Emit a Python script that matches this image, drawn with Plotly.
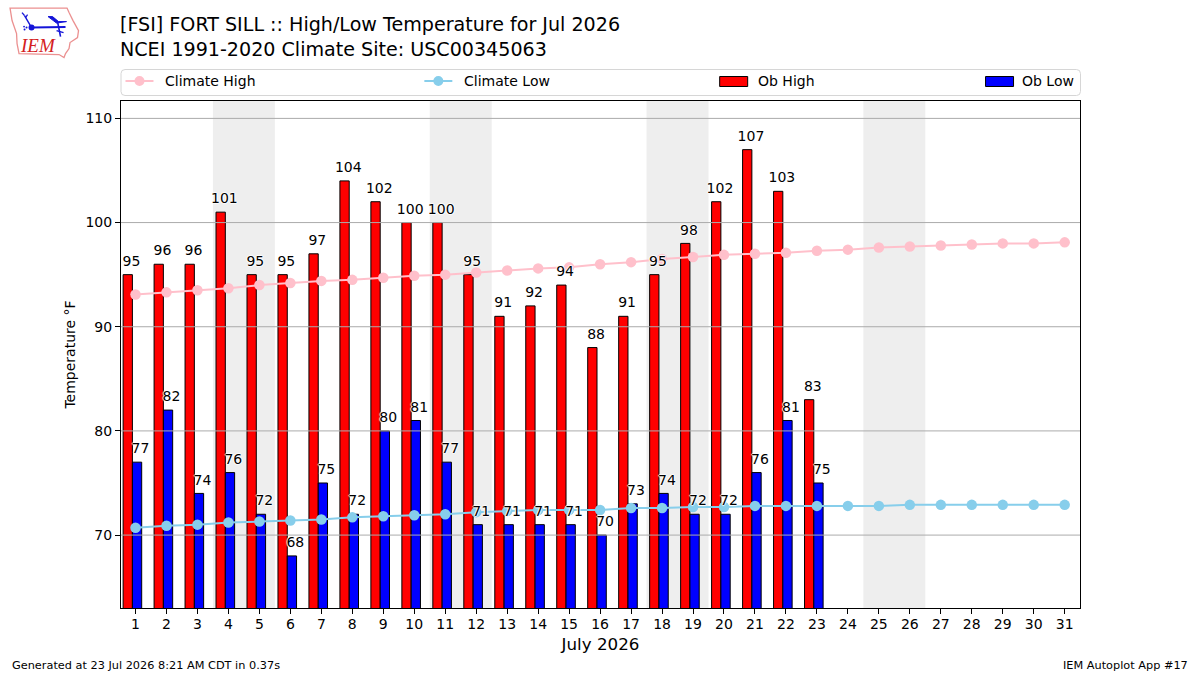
import plotly.graph_objects as go

days = list(range(1, 32))
ob_days = list(range(1, 24))
climate_high = [93.1, 93.3, 93.5, 93.7, 94.0, 94.2, 94.4, 94.5, 94.7, 94.9, 95.0,
                95.2, 95.4, 95.6, 95.7, 96.0, 96.2, 96.5, 96.7, 96.9, 97.0, 97.1,
                97.3, 97.4, 97.6, 97.7, 97.8, 97.9, 98.0, 98.0, 98.1]
climate_low = [70.7, 70.9, 71.0, 71.2, 71.3, 71.4, 71.5, 71.7, 71.8, 71.9, 72.0,
               72.2, 72.3, 72.4, 72.4, 72.4, 72.6, 72.6, 72.7, 72.7, 72.8, 72.8,
               72.8, 72.8, 72.8, 72.9, 72.9, 72.9, 72.9, 72.9, 72.9]
ob_high = [95, 96, 96, 101, 95, 95, 97, 104, 102, 100, 100, 95,
           91, 92, 94, 88, 91, 95, 98, 102, 107, 103, 83]
ob_low = [77, 82, 74, 76, 72, 68, 75, 72, 80, 81, 77, 71,
          71, 71, 71, 70, 73, 74, 72, 72, 76, 81, 75]
weekends = [(4, 5), (11, 12), (18, 19), (25, 26)]
y_ticks = [70, 80, 90, 100, 110]

FONT = "DejaVu Sans"
PLOT_L, PLOT_R, PLOT_T, PLOT_B = 120.5, 1080, 100.5, 608
HALO = "-1px 0 1px #fff, 1px 0 1px #fff, 0 -1px 1px #fff, 0 1px 1px #fff"


def px(x):
    return (x - PLOT_L) / (PLOT_R - PLOT_L)


def py(y):
    return (PLOT_B - y) / (PLOT_B - PLOT_T)


def page_path(points, close=False):
    parts = [f"{'M' if i == 0 else 'L'}{px(x):.5f},{py(y):.5f}" for i, (x, y) in enumerate(points)]
    return " ".join(parts) + (" Z" if close else "")


def page_shape(points, color, width=1.0, fill=None, close=False):
    return dict(type="path", xref="paper", yref="paper", path=page_path(points, close),
                line=dict(color=color, width=width),
                fillcolor=fill if fill else "rgba(0,0,0,0)", layer="above")


def page_dot(cx, cy, r, color):
    return dict(type="circle", xref="paper", yref="paper",
                x0=px(cx - r), x1=px(cx + r), y0=py(cy + r), y1=py(cy - r),
                fillcolor=color, line=dict(width=0), layer="above")


def page_text(x, y, text, size, anchor="left", **extra):
    return dict(xref="paper", yref="paper", x=px(x), y=py(y), text=text, showarrow=False,
                xanchor=anchor, yanchor="middle", font=dict(family=FONT, size=size, color="black"),
                **extra)


fig = go.Figure()

fig.add_trace(go.Bar(x=ob_days, y=ob_high, name="Ob High", width=0.3, offset=-0.4,
                     marker=dict(color="red", line=dict(color="black", width=1)), showlegend=False))
fig.add_trace(go.Bar(x=ob_days, y=ob_low, name="Ob Low", width=0.3, offset=-0.1,
                     marker=dict(color="blue", line=dict(color="black", width=1)), showlegend=False))
fig.add_trace(go.Scatter(x=days, y=climate_high, name="Climate High", mode="lines+markers",
                         line=dict(color="pink", width=2), marker=dict(color="pink", size=10.5),
                         showlegend=False))
fig.add_trace(go.Scatter(x=days, y=climate_low, name="Climate Low", mode="lines+markers",
                         line=dict(color="skyblue", width=2), marker=dict(color="skyblue", size=10.5),
                         showlegend=False))

# Value labels sit above each bar, nudged toward the bar pair's centre;
# the transparent markers only lift the text clear of the bar top
for values, shift in ((ob_high, -0.13), (ob_low, 0.16)):
    fig.add_trace(go.Scatter(x=[d + shift for d in ob_days], y=values, mode="markers+text",
                             marker=dict(size=7, opacity=0),
                             text=[str(v) for v in values], textposition="top center",
                             textfont=dict(family=FONT, size=14, color="black", shadow=HALO),
                             hoverinfo="skip", showlegend=False))

shapes = []
# Weekend shading
for start, end in weekends:
    shapes.append(dict(type="rect", xref="x", yref="paper", x0=start - 0.5, x1=end + 0.5, y0=0, y1=1,
                       fillcolor="#eeeeee", line=dict(width=0), layer="below"))
# Grid lines run over the bars
for tick in y_ticks:
    shapes.append(dict(type="line", xref="paper", yref="y", x0=0, x1=1, y0=tick, y1=tick,
                       line=dict(color="#ababab", width=1), layer="above"))

# Legend strip
r = 4
L, R, T, B = 120.5, 1080.5, 69, 95
legend_box = (f"M{px(L + r):.5f},{py(T):.5f} L{px(R - r):.5f},{py(T):.5f} "
              f"Q{px(R):.5f},{py(T):.5f} {px(R):.5f},{py(T + r):.5f} "
              f"L{px(R):.5f},{py(B - r):.5f} Q{px(R):.5f},{py(B):.5f} {px(R - r):.5f},{py(B):.5f} "
              f"L{px(L + r):.5f},{py(B):.5f} Q{px(L):.5f},{py(B):.5f} {px(L):.5f},{py(B - r):.5f} "
              f"L{px(L):.5f},{py(T + r):.5f} Q{px(L):.5f},{py(T):.5f} {px(L + r):.5f},{py(T):.5f} Z")
shapes.append(dict(type="path", xref="paper", yref="paper", path=legend_box,
                   line=dict(color="#d6d6d6", width=1), fillcolor="white", layer="above"))
shapes.append(page_shape([(125, 80.5), (153, 80.5)], "pink", 2))
shapes.append(page_dot(139, 80.5, 5, "pink"))
shapes.append(page_shape([(424, 80.5), (452, 80.5)], "skyblue", 2))
shapes.append(page_dot(438, 80.5, 5, "skyblue"))
shapes.append(page_shape([(719.5, 76), (747.5, 76), (747.5, 86), (719.5, 86)], "black", 1, "red", True))
shapes.append(page_shape([(985.5, 76), (1013.5, 76), (1013.5, 86), (985.5, 86)], "black", 1, "blue", True))

# Station network emblem: state outline with a wind-barb glyph
BLUE = "#1414d8"
state_outline = [(9.5, 7.5), (66.5, 7.5), (68.5, 12), (72.5, 20), (78, 30), (77, 37), (69.5, 42),
                 (68.5, 48), (65, 53), (63.5, 57), (58.5, 54), (18.5, 53), (16.5, 43), (16, 33),
                 (11.5, 20)]
shapes.append(page_shape(state_outline, "#eb9090", 1.3, None, True))
shapes.append(page_shape([(31, 27), (65, 26.5)], BLUE, 2))
shapes.append(page_shape([(31, 27), (24, 15)], BLUE, 1.4))
shapes.append(page_shape([(24, 15), (21.5, 12)], BLUE, 1.4))
shapes.append(page_shape([(25, 17), (27, 14)], BLUE, 1.2))
shapes.append(page_shape([(47.5, 16), (52, 16), (58, 21), (66, 21), (56, 22.5)], BLUE, 1.0, BLUE, True))
shapes.append(page_shape([(57, 21), (60, 36)], BLUE, 1.6))
shapes.append(page_shape([(56, 30), (63, 32)], BLUE, 1.4))
shapes.append(page_dot(31, 27, 3, BLUE))
shapes.append(page_dot(24, 29, 1, BLUE))
shapes.append(page_dot(26, 27, 1, BLUE))
shapes.append(page_dot(23.5, 26, 0.9, BLUE))

annotations = [
    page_text(162.5, 80, "Climate High", 14),
    page_text(462, 80, "Climate Low", 14),
    page_text(756, 80, "Ob High", 14),
    page_text(1020, 80, "Ob Low", 14),
    page_text(9, 665.5, "Generated at 23 Jul 2026 8:21 AM CDT in 0.37s", 11.3),
    page_text(1190, 665.5, "IEM Autoplot App #17", 11.3, anchor="right"),
    dict(xref="paper", yref="paper", x=px(37), y=py(45), text="<i>IEM</i>", showarrow=False,
         xanchor="center", yanchor="middle",
         font=dict(family="Liberation Serif", size=19, color="#d42020")),
]

fig.update_layout(
    width=1200, height=675,
    margin=dict(l=PLOT_L, r=1200 - PLOT_R, t=PLOT_T, b=675 - PLOT_B, pad=0),
    paper_bgcolor="white", plot_bgcolor="white",
    font=dict(family=FONT, size=14, color="black"),
    title=dict(text="[FSI] FORT SILL :: High/Low Temperature for Jul 2026<br>"
                    "NCEI 1991-2020 Climate Site: USC00345063",
               xref="container", yref="container", x=0.1, xanchor="left", y=0.954, yanchor="top",
               font=dict(family=FONT, size=19.1, color="black")),
    barmode="overlay", showlegend=False, shapes=shapes, annotations=annotations,
    xaxis=dict(range=[0.532, 31.494], tickmode="array", tickvals=days, ticktext=[str(d) for d in days],
               ticks="outside", ticklen=5, tickwidth=1, tickcolor="black", ticklabelstandoff=-2,
               showgrid=False, zeroline=False, showline=True, mirror=True, linecolor="black", linewidth=1,
               tickfont=dict(family=FONT, size=14),
               title=dict(text="July 2026", font=dict(family=FONT, size=16.7), standoff=7)),
    yaxis=dict(range=[63.0, 111.67], tickmode="array", tickvals=y_ticks, ticktext=[str(t) for t in y_ticks],
               ticks="outside", ticklen=5, tickwidth=1, tickcolor="black",
               showgrid=False, zeroline=False, showline=True, mirror=True, linecolor="black", linewidth=1,
               tickfont=dict(family=FONT, size=14),
               title=dict(text="Temperature °F", font=dict(family=FONT, size=14), standoff=6)),
)

fig.write_html("out.html")
